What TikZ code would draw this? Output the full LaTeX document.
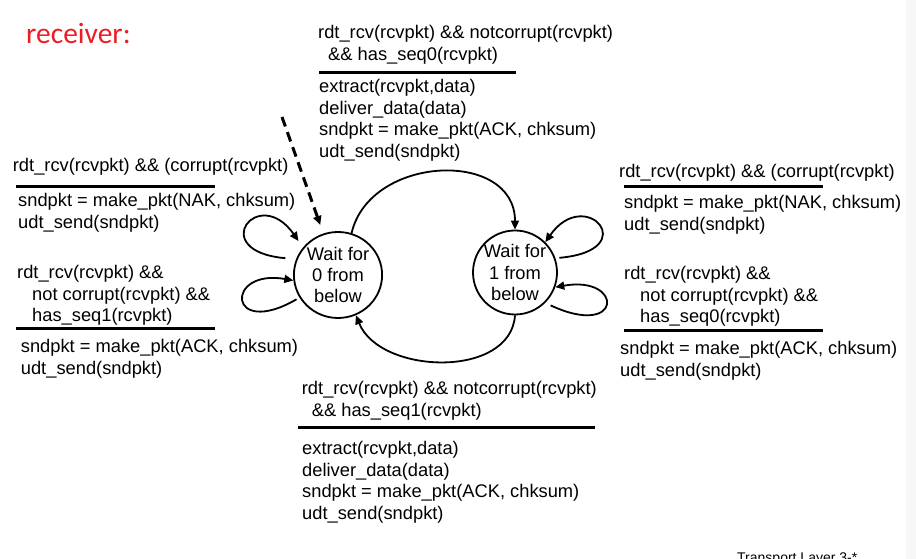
\documentclass[tikz,border=0pt]{standalone}
\usepackage{fontspec}
\setmainfont{Liberation Sans}
\newfontfamily\titlefont{Carlito}
\usetikzlibrary{arrows.meta,shapes.geometric}
\definecolor{rcvred}{RGB}{237,28,36}
\tikzset{
  fsmstate/.style={draw, line width=1.8pt, inner sep=0pt, align=center,
    font=\fontsize{18.3}{21.3}\selectfont},
  guard/.style={anchor=base west, inner sep=0pt, align=left,
    font=\fontsize{18.3}{21.4}\selectfont},
  action/.style={guard},
  guardline/.style={line width=3pt},
  trans/.style={line width=1.8pt, -{Triangle[length=9pt,width=8pt]}},
  initarrow/.style={line width=3pt, dash pattern=on 10pt off 6pt,
    -{Triangle[length=9pt,width=8pt]}},
}
\begin{document}
\begin{tikzpicture}[x=1pt, y=1pt]
    \useasboundingbox (0,0) rectangle (916,559);
    \fill[black!3] (906,0) rectangle (916,559);
    % Title
    \node[anchor=base west, inner sep=0pt, text=rcvred,
      font=\titlefont\fontsize{29.5}{32}\selectfont] (title) at (26,515) {receiver:};
    % States
    \node[fsmstate, ellipse, minimum width=80pt, minimum height=86pt] (w0) at (338,284)
      {Wait for\\0 from\\below};
    \node[fsmstate, circle, minimum size=84pt] (w1) at (515,286.5)
      {Wait for\\1 from\\below};
    % Initial arrow
    \coordinate (init) at (282,442);
    \draw[initarrow, shorten >=9pt] (init) -- (w0);
    % Transition 0 -> 1 (top), nodes sit on the baseline of their last line
    \node[guard] (g01) at (318,498.6)
      {rdt\_rcv(rcvpkt) \&\& notcorrupt(rcvpkt)\\\hspace*{10pt}\&\& has\_seq0(rcvpkt)};
    \draw[guardline] (319,486) -- (516,486);
    \node[action] (a01) at (319,401.8)
      {extract(rcvpkt,data)\\deliver\_data(data)\\sndpkt = make\_pkt(ACK, chksum)\\udt\_send(sndpkt)};
    \draw[trans] (w0.72) to[out=77, in=90, looseness=1.26] (w1.north);
    % Transition 1 -> 0 (bottom)
    \node[guard] (g10) at (301.7,142.6)
      {rdt\_rcv(rcvpkt) \&\& notcorrupt(rcvpkt)\\\hspace*{10pt}\&\& has\_seq1(rcvpkt)};
    \draw[guardline] (298,131.3) -- (595,131.3);
    \node[action] (a10) at (302,39.8)
      {extract(rcvpkt,data)\\deliver\_data(data)\\sndpkt = make\_pkt(ACK, chksum)\\udt\_send(sndpkt)};
    \draw[trans] (w1.south) to[out=-94, in=-68, looseness=1.03] (w0.-66);
    % Self loops on state 0
    \node[guard] (gL1) at (12.7,387.3) {rdt\_rcv(rcvpkt) \&\& (corrupt(rcvpkt)};
    \draw[guardline] (16,372) -- (215,372);
    \node[action] (aL1) at (18,330.9) {sndpkt = make\_pkt(NAK, chksum)\\udt\_send(sndpkt)};
    \draw[trans] ([xshift=-11pt]w0.158) .. controls +(175:80) and +(125:70) .. ([xshift=-11pt]w0.130);
    \node[guard] (gL2) at (17,237.2)
      {rdt\_rcv(rcvpkt) \&\&\\\hspace*{15pt}not corrupt(rcvpkt) \&\&\\\hspace*{15pt}has\_seq1(rcvpkt)};
    \draw[guardline] (16,230) -- (215,230);
    \node[action] (aL2) at (20.7,184.6) {sndpkt = make\_pkt(ACK, chksum)\\udt\_send(sndpkt)};
    \draw[trans] ([xshift=-4pt]w0.213) .. controls +(210:80) and +(170:70) .. (w0.187);
    % Self loops on state 1
    \node[guard] (gR1) at (619,381) {rdt\_rcv(rcvpkt) \&\& (corrupt(rcvpkt)};
    \draw[guardline] (624,372) -- (823,372);
    \node[action] (aR1) at (624,328.6) {sndpkt = make\_pkt(NAK, chksum)\\udt\_send(sndpkt)};
    \draw[trans] ([xshift=4pt]w1.20) .. controls +(5:85) and +(55:70) .. (w1.45);
    \node[guard] (gR2) at (624,236.2)
      {rdt\_rcv(rcvpkt) \&\&\\\hspace*{16pt}not corrupt(rcvpkt) \&\&\\\hspace*{16pt}has\_seq0(rcvpkt)};
    \draw[guardline] (624,228.3) -- (823,228.3);
    \node[action] (aR2) at (620,182.6) {sndpkt = make\_pkt(ACK, chksum)\\udt\_send(sndpkt)};
    \draw[trans] ([xshift=8pt]w1.-50) .. controls +(-25:80) and +(10:70) .. (w1.-20);
    % Footer
    \node[anchor=base west, inner sep=0pt, font=\fontsize{14}{16}\selectfont] (footer)
      at (737,-4) {Transport Layer 3-*};
\end{tikzpicture}
\end{document}
